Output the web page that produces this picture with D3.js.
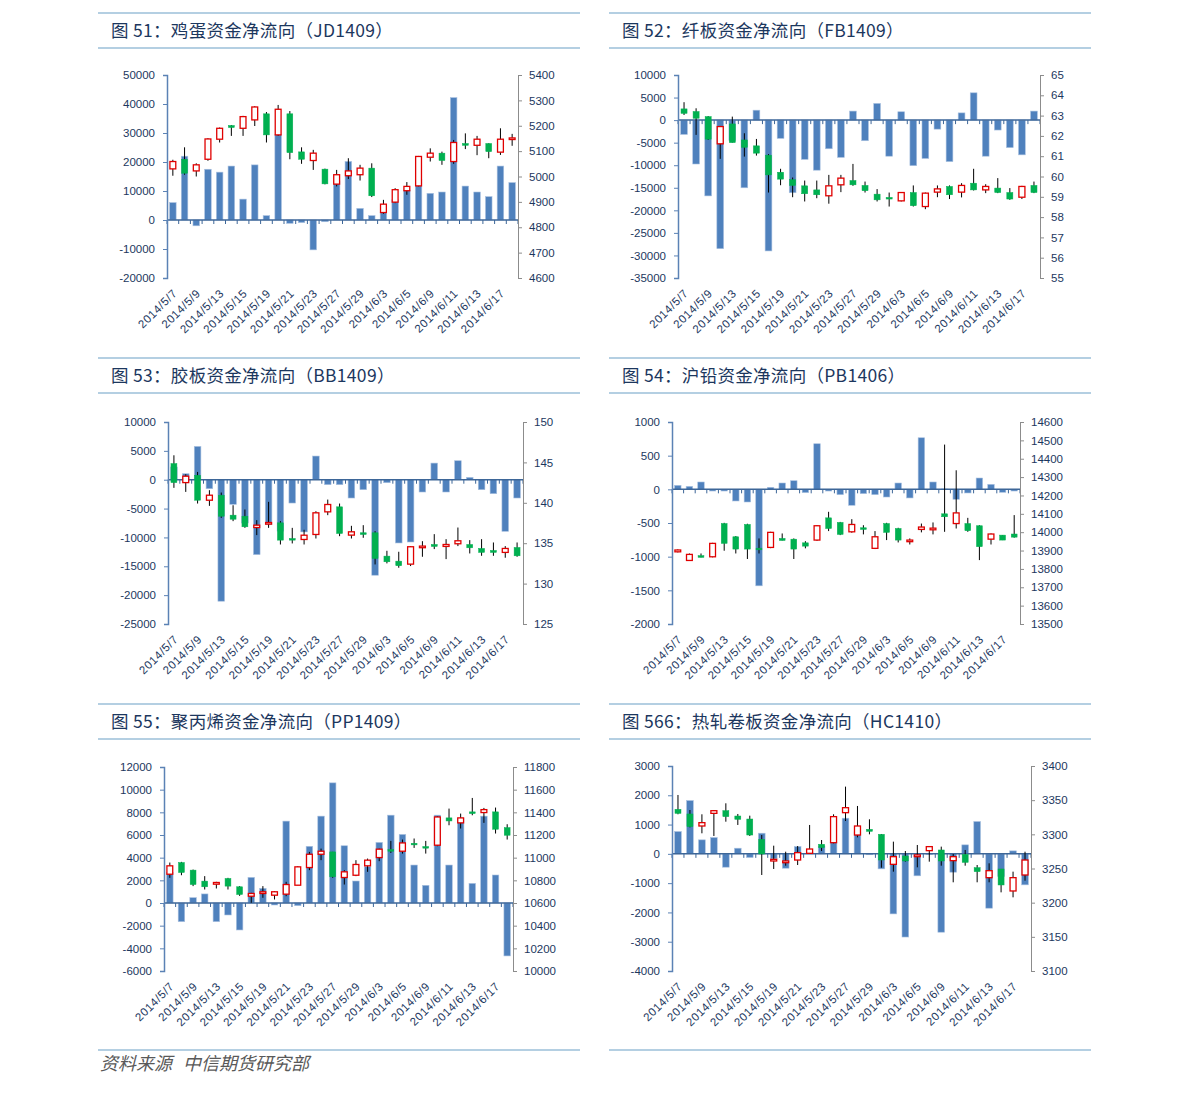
<!DOCTYPE html>
<html><head><meta charset="utf-8">
<script src="https://cdn.jsdelivr.net/npm/d3@7"></script>
<style>
html,body{margin:0;padding:0;background:#fff;}
svg{display:block;}
</style></head>
<body>
<svg id="c" width="1191" height="1096"></svg>
<script>
const dates = ["2014/5/7","2014/5/8","2014/5/9","2014/5/12","2014/5/13","2014/5/14","2014/5/15","2014/5/16","2014/5/19","2014/5/20","2014/5/21","2014/5/22","2014/5/23","2014/5/26","2014/5/27","2014/5/28","2014/5/29","2014/5/30","2014/6/3","2014/6/4","2014/6/5","2014/6/6","2014/6/9","2014/6/10","2014/6/11","2014/6/12","2014/6/13","2014/6/16","2014/6/17","2014/6/18"];

const titles = ["图 51：鸡蛋资金净流向（JD1409）","图 52：纤板资金净流向（FB1409）","图 53：胶板资金净流向（BB1409）","图 54：沪铅资金净流向（PB1406）","图 55：聚丙烯资金净流向（PP1409）","图 566：热轧卷板资金净流向（HC1410）"];
const sourceText = ["资料来源","中信期货研究部"];

// JD1409
const jdFlow  = [6000,22000,-2000,17500,16500,18600,7200,19000,1500,29500,-1150,-900,-10300,-600,13500,20200,4000,1500,2500,7000,10300,14000,9200,9650,42200,11700,9650,8050,18600,12900];
const jdOpen  = [5030,5068,5022,5068,5147,5201,5190,5223,5247,5164,5247,5097,5063,5029,4970,5003,5007,5033,4858,4899,4944,4963,5076,5092,5059,5130,5123,5130,5096,5147];
const jdClose = [5059,5013,5046,5148,5190,5193,5236,5274,5164,5265,5094,5068,5092,4971,5007,5022,5033,4924,4891,4948,4961,5079,5092,5063,5134,5123,5147,5098,5147,5152];
const jdHigh  = [5066,5115,5052,5151,5193,5203,5239,5277,5254,5282,5258,5115,5105,5031,5026,5072,5046,5052,4908,4954,4978,5081,5111,5098,5144,5170,5160,5131,5190,5168];
const jdLow   = [5003,5007,5000,5062,5134,5160,5160,5199,5134,5160,5068,5050,5026,4969,4961,4990,4984,4919,4853,4895,4928,4961,5059,5046,5050,5108,5084,5072,5085,5121];

// FB1409
const fbFlow  = [-3170,-9730,-16800,-28500,-4500,-15000,2200,-29000,-4050,-16100,-8700,-11100,-6350,-8260,2000,-4570,3700,-8000,1850,-10100,-8500,-2000,-9200,1600,6050,-8000,-2200,-6100,-7700,2000];
const fbOpen  = [63.33,63.20,62.95,61.61,62.59,61.80,61.51,61.05,60.21,59.84,59.54,59.34,59.05,59.59,59.80,59.56,59.13,58.97,58.80,59.21,58.52,59.23,59.51,59.23,59.67,59.34,59.43,59.21,58.98,59.56];
const fbClose = [63.11,62.87,61.84,62.46,61.67,61.44,61.15,60.08,59.87,59.56,59.15,59.10,59.54,59.92,59.59,59.30,58.85,58.89,59.21,58.56,59.18,59.39,59.10,59.56,59.34,59.51,59.21,58.89,59.51,59.21];
const fbHigh  = [63.66,63.36,62.98,62.49,62.95,62.13,61.85,61.10,60.38,59.95,59.80,59.80,60.08,60.08,60.62,59.75,59.38,59.21,59.23,59.56,59.21,59.56,59.56,59.67,60.38,59.62,59.92,59.43,59.54,59.75];
const fbLow   = [63.03,62.05,61.80,60.87,61.67,60.98,61.03,59.21,59.57,58.98,58.77,58.93,58.66,59.23,59.54,59.21,58.77,58.52,58.77,58.52,58.39,58.98,58.89,58.97,59.31,59.18,59.18,58.85,58.89,59.18];

// BB1409
const bbFlow  = [2200,1040,5770,-1560,-21050,-4270,-7500,-12980,-7800,-8900,-4040,-9050,4100,-860,-860,-3170,-1730,-16550,-520,-10960,-10790,-2130,2880,-2130,3290,400,-1730,-2420,-8940,-3170];
const bbOpen  = [144.85,142.50,143.41,140.32,140.94,138.47,138.34,136.94,137.40,137.52,135.58,135.46,136.08,138.88,139.50,136.00,136.29,136.29,133.40,132.78,132.41,134.47,134.84,134.60,134.93,134.84,134.35,134.10,133.86,134.47];
const bbClose = [142.50,143.29,140.32,140.94,138.34,137.97,137.03,137.23,137.56,135.38,135.38,135.99,138.76,139.79,136.20,136.41,136.08,133.11,132.70,132.21,134.56,134.64,134.60,134.84,135.30,134.43,133.86,133.86,134.35,133.44];
const bbHigh  = [145.88,143.53,143.82,141.56,141.27,139.70,139.17,137.85,140.12,137.73,136.90,136.66,138.96,140.40,139.91,137.15,137.23,136.49,134.06,133.94,134.64,135.25,136.12,135.50,136.94,135.38,135.50,135.09,134.64,135.09];
const bbLow   = [141.85,141.35,139.91,139.62,138.14,137.73,136.90,136.00,136.90,134.84,134.97,134.84,135.58,138.47,135.87,135.58,135.67,132.37,132.50,131.96,132.17,133.32,134.27,133.03,134.64,133.73,133.44,133.44,133.20,133.32];

// PB1406
const pbFlow  = [59,44,109,-25,-25,-173,-188,-1433,30,94,128,-49,677,-25,-79,-237,-64,-79,-114,94,-128,766,109,5,-148,-54,168,74,-44,-25];
const pbOpen  = [13893,13846,13872,13866,14047,13975,14042,13913,13917,13966,13962,13942,13957,14078,14053,14002,14024,13912,14047,14020,13950,14015,14013,14100,14047,14047,14035,13962,13984,13990];
const pbClose = [13903,13879,13863,13939,13939,13908,13908,13904,13999,13955,13908,13924,14035,14020,13988,14042,14015,13975,13999,13957,13957,14028,14022,14084,14105,14008,13921,13990,13957,13973];
const pbHigh  = [13906,13884,13884,13942,14051,13979,14046,13966,14002,13993,13966,13951,14038,14111,14056,14071,14038,14006,14051,14024,13966,14047,14053,14477,14337,14078,14038,13993,13984,14093];
const pbLow   = [13890,13843,13863,13863,13899,13884,13854,13884,13913,13955,13854,13912,13953,14006,13984,13997,13988,13908,13957,13944,13933,13999,13988,14002,14020,14002,13848,13933,13957,13970];

// PP1409
const ppFlow  = [2700,-1645,470,800,-1645,-1057,-2380,2260,1290,-176,7225,-235,5000,7665,10600,5050,1940,3200,5345,7750,6050,3350,1560,7750,3350,7460,1730,7665,2470,-4670];
const ppOpen  = [10854,10957,10890,10793,10766,10816,10743,10660,10684,10669,10678,10757,10913,11030,11051,10825,10845,10928,11001,11072,11057,11127,11098,11110,11351,11307,11404,11398,11404,11265];
const ppClose = [10928,10869,10763,10743,10781,10749,10675,10684,10699,10699,10763,10919,11030,11057,10831,10875,10940,10978,11075,11057,11130,11113,11084,11359,11324,11351,11389,11424,11251,11198];
const ppHigh  = [10957,10963,10895,10837,10787,10822,10749,10690,10749,10705,10787,10925,11051,11080,11051,10890,10978,10992,11080,11148,11160,11169,11148,11365,11433,11389,11527,11439,11442,11295];
const ppLow   = [10822,10845,10749,10719,10728,10719,10663,10602,10646,10631,10660,10757,10890,10978,10822,10763,10837,10875,10969,11042,11036,11086,11036,11101,11286,11257,11374,11307,11213,11160];

// HC1410
const hcFlow  = [762,1820,478,557,-455,193,-125,705,-170,-490,250,50,270,400,1218,750,-30,-512,-2050,-2840,-750,-20,-2675,-626,307,1104,-1855,-774,102,-1058];
const hcOpen  = [3336.6,3329.8,3312.2,3330.7,3334.6,3326.8,3322.4,3292.7,3261,3258.5,3262.4,3272.2,3285.4,3287.8,3331.7,3299,3307.3,3300,3256.1,3268.3,3267.3,3276.1,3277.1,3261.5,3270.7,3251.2,3236.6,3249.3,3217.1,3240.5];
const hcClose = [3330.7,3311.2,3317.1,3334.6,3325.9,3322,3299,3271.2,3263.4,3261,3273.2,3278.5,3280.5,3325.9,3339,3312.2,3304.4,3262.4,3267.3,3261,3269.8,3282,3261,3267.3,3259,3245.4,3246.8,3225.9,3236.6,3262.4];
const hcHigh  = [3357.6,3335.6,3329.3,3335.6,3345.4,3329.8,3327.3,3299,3283.4,3274.6,3282.9,3313.7,3291.7,3329.3,3369.8,3341.5,3322,3300.5,3289.3,3275.6,3284.4,3282.9,3282,3271.2,3277.1,3255.1,3257.6,3249.3,3245.4,3274.6];
const hcLow   = [3329.3,3310.2,3301.5,3297.6,3318.5,3313.7,3297.6,3240.5,3249.3,3254.1,3255.1,3272.2,3275.6,3286.8,3319.5,3295.6,3300,3251.2,3245.4,3260,3251.7,3260,3254.1,3229.8,3254.1,3229.8,3229.8,3215.1,3207.8,3232.2];

// Axis tick labels
const jdLeftTicks  = [-20000,-10000,0,10000,20000,30000,40000,50000];
const jdRightTicks = [4600,4700,4800,4900,5000,5100,5200,5300,5400];
const fbLeftTicks  = [-35000,-30000,-25000,-20000,-15000,-10000,-5000,0,5000,10000];
const fbRightTicks = [55,56,57,58,59,60,61,62,63,64,65];
const bbLeftTicks  = [-25000,-20000,-15000,-10000,-5000,0,5000,10000];
const bbRightTicks = [125,130,135,140,145,150];
const pbLeftTicks  = [-2000,-1500,-1000,-500,0,500,1000];
const pbRightTicks = [13500,13600,13700,13800,13900,14000,14100,14200,14300,14400,14500,14600];
const ppLeftTicks  = [-6000,-4000,-2000,0,2000,4000,6000,8000,10000,12000];
const ppRightTicks = [10000,10200,10400,10600,10800,11000,11200,11400,11600,11800];
const hcLeftTicks  = [-4000,-3000,-2000,-1000,0,1000,2000,3000];
const hcRightTicks = [3100,3150,3200,3250,3300,3350,3400];

const panels = [
  {flow:jdFlow,o:jdOpen,c:jdClose,h:jdHigh,l:jdLow,lt:jdLeftTicks,rt:jdRightTicks},
  {flow:fbFlow,o:fbOpen,c:fbClose,h:fbHigh,l:fbLow,lt:fbLeftTicks,rt:fbRightTicks},
  {flow:bbFlow,o:bbOpen,c:bbClose,h:bbHigh,l:bbLow,lt:bbLeftTicks,rt:bbRightTicks},
  {flow:pbFlow,o:pbOpen,c:pbClose,h:pbHigh,l:pbLow,lt:pbLeftTicks,rt:pbRightTicks},
  {flow:ppFlow,o:ppOpen,c:ppClose,h:ppHigh,l:ppLow,lt:ppLeftTicks,rt:ppRightTicks},
  {flow:hcFlow,o:hcOpen,c:hcClose,h:hcHigh,l:hcLow,lt:hcLeftTicks,rt:hcRightTicks}
];

// layout
const layout = [
  {x0:98, x1:580, top:13, bot:48, pl:167, pr:518, pt:75, pb:278},
  {x0:609,x1:1091,top:13, bot:48, pl:678, pr:1040,pt:75, pb:278},
  {x0:98, x1:580, top:358,bot:393,pl:168, pr:523, pt:422,pb:624},
  {x0:609,x1:1091,top:358,bot:393,pl:672, pr:1020,pt:422,pb:624},
  {x0:98, x1:580, top:704,bot:739,pl:164, pr:513, pt:767,pb:971},
  {x0:609,x1:1091,top:704,bot:739,pl:672, pr:1031,pt:766,pb:971}
];

const svg = d3.select("#c");
svg.append("rect").attr("width",1191).attr("height",1096).attr("fill","#fff");
const lineColor = "#6a9fc6";
const textColor = "#1c375e";
const tickFont = "Liberation Sans, Arial, sans-serif";

panels.forEach((p, k) => {
  const L = layout[k];
  const g = svg.append("g");
  // frame lines
  g.append("line").attr("x1",L.x0).attr("x2",L.x1).attr("y1",L.top).attr("y2",L.top).attr("stroke",lineColor).attr("stroke-width",1.2);
  g.append("line").attr("x1",L.x0).attr("x2",L.x1).attr("y1",L.bot).attr("y2",L.bot).attr("stroke",lineColor).attr("stroke-width",1.2);
  g.append("text").attr("x",L.x0+13).attr("y",(L.top+L.bot)/2+6)
    .attr("font-family","Noto Sans CJK SC, sans-serif").attr("font-size",17.5).attr("letter-spacing",0.3).attr("fill",textColor)
    .text(titles[k]);

  const x = d3.scaleBand().domain(d3.range(dates.length)).range([L.pl, L.pr]).padding(0);
  const bw = x.bandwidth();
  const yL = d3.scaleLinear().domain(d3.extent(p.lt)).range([L.pb, L.pt]);
  const yR = d3.scaleLinear().domain(d3.extent(p.rt)).range([L.pb, L.pt]);

  // bars
  const barW = bw*0.56;
  g.append("g").selectAll("rect").data(p.flow).join("rect")
    .attr("x",(d,i)=>x(i)+(bw-barW)/2).attr("width",barW)
    .attr("y",d=>yL(Math.max(0,d))).attr("height",d=>Math.abs(yL(d)-yL(0)))
    .attr("fill","#4f81bd").attr("stroke","#a9c1e0").attr("stroke-width",0.6);

  // category axis at zero
  const y0 = yL(0);
  const cg = g.append("g");
  cg.append("line").attr("x1",L.pl).attr("x2",L.pr).attr("y1",y0).attr("y2",y0).attr("stroke","#3d6698").attr("stroke-width",1.5);
  cg.selectAll("line.tk").data(d3.range(dates.length+1)).join("line").attr("class","tk")
    .attr("x1",i=>L.pl+i*bw).attr("x2",i=>L.pl+i*bw).attr("y1",y0).attr("y2",y0+4)
    .attr("stroke","#3d6698").attr("stroke-width",1);

  // candles
  const bodyW = bw*0.5;
  const cd = g.append("g");
  d3.range(dates.length).forEach(i => {
    const cx = x(i)+bw/2;
    cd.append("line").attr("x1",cx).attr("x2",cx).attr("y1",yR(p.h[i])).attr("y2",yR(p.l[i])).attr("stroke","#000").attr("stroke-width",1);
    const up = p.c[i] >= p.o[i];
    const yt = yR(Math.max(p.o[i],p.c[i]));
    const hh = Math.max(Math.abs(yR(p.o[i])-yR(p.c[i])),1.6);
    cd.append("rect").attr("x",cx-bodyW/2).attr("width",bodyW).attr("y",yt).attr("height",hh)
      .attr("fill",up?"#fff":"#00b050").attr("stroke",up?"#e00000":"#00b050").attr("stroke-width",up?1.3:0.5);
  });

  // left axis
  const la = g.append("g").attr("transform",`translate(${L.pl},0)`)
    .call(d3.axisLeft(yL).tickValues(p.lt).tickSize(4).tickPadding(8).tickFormat(d=>String(d)));
  la.select(".domain").attr("stroke","#5b82b5").attr("stroke-width",1.5);
  la.selectAll(".tick line").attr("stroke","#5b82b5");
  la.selectAll("text").attr("font-family",tickFont).attr("font-size",11.5).attr("fill",textColor);

  // right axis
  const ra = g.append("g").attr("transform",`translate(${L.pr},0)`)
    .call(d3.axisRight(yR).tickValues(p.rt).tickSize(4).tickPadding(7).tickFormat(d=>String(d)));
  ra.select(".domain").attr("stroke","#8c8c8c").attr("stroke-width",1);
  ra.selectAll(".tick line").attr("stroke","#8c8c8c");
  ra.selectAll("text").attr("font-family",tickFont).attr("font-size",11.5).attr("fill",textColor);

  // date labels
  g.append("g").selectAll("text").data(d3.range(0,dates.length,2)).join("text")
    .attr("transform",i=>`translate(${x(i)+bw/2+5},${L.pb+16}) rotate(-45)`)
    .attr("text-anchor","end").attr("font-family",tickFont).attr("font-size",11.5).attr("fill",textColor)
    .attr("letter-spacing",0.6)
    .text(i=>dates[i]);
});

// bottom lines & source
svg.append("line").attr("x1",98).attr("x2",580).attr("y1",1050).attr("y2",1050).attr("stroke",lineColor).attr("stroke-width",1.2);
svg.append("line").attr("x1",609).attr("x2",1091).attr("y1",1050).attr("y2",1050).attr("stroke",lineColor).attr("stroke-width",1.2);
svg.append("text").attr("x",100).attr("y",1070).attr("font-family","Noto Sans CJK SC, sans-serif")
  .attr("font-style","italic").attr("font-size",18).attr("fill","#595959").text(sourceText[0]);
svg.append("text").attr("x",183).attr("y",1070).attr("font-family","Noto Sans CJK SC, sans-serif")
  .attr("font-style","italic").attr("font-size",18).attr("fill","#595959").text(sourceText[1]);
</script>
</body></html>
